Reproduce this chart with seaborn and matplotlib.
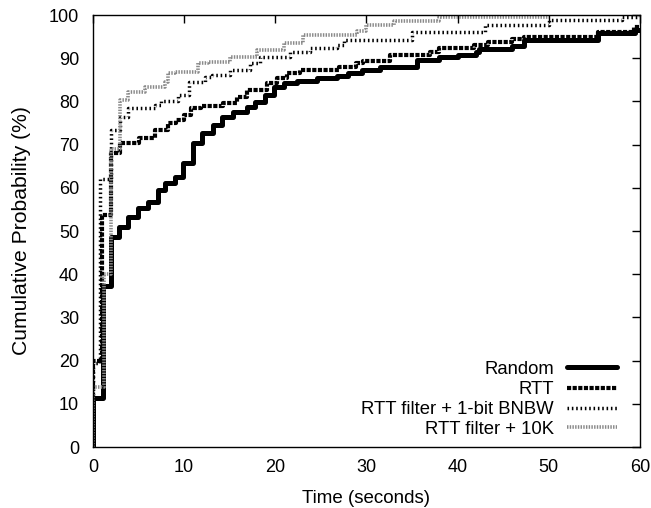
import matplotlib
matplotlib.use("Agg")
import matplotlib.pyplot as plt
from matplotlib.legend import Legend
import seaborn as sns
import pandas as pd

sns.set_theme(style="white")
plt.rcParams['font.family'] = ['Liberation Sans', 'DejaVu Sans']
for k in ["text.color", "axes.labelcolor", "xtick.color", "ytick.color", "axes.edgecolor"]:
    plt.rcParams[k] = "black"

# ---- data (time in seconds, cumulative %) ----
random_t = [0, 0, 1.1, 2.0, 2.9, 3.8, 4.9, 6.0, 7.1, 7.9, 9.0, 9.9, 11.0, 12.0, 13.2, 14.2, 15.4,
            16.9, 17.8, 18.9, 19.8, 20.9, 22.4, 24.6, 26.8, 28.0, 29.5, 31.5, 35.5, 38.0, 40.0,
            42.0, 42.3, 46.0, 47.3, 55.4, 59.5, 60]
random_p = [0, 11.3, 37.3, 48.6, 51.0, 53.3, 55.3, 56.7, 59.5, 61.0, 62.5, 65.7, 70.4, 72.8, 74.5,
            76.4, 77.5, 78.7, 79.9, 81.5, 83.3, 84.3, 84.7, 85.4, 85.9, 86.5, 87.3, 88.0, 89.6,
            90.2, 90.8, 91.5, 92.2, 92.8, 94.2, 95.8, 96.5, 96.5]

rtt_t = [0, 0, 1.0, 2.0, 3.0, 5.0, 6.8, 8.2, 9.1, 10.0, 10.7, 11.8, 14.3, 15.8, 16.9, 19.1, 20.2,
         21.3, 22.7, 27.0, 28.8, 29.6, 32.6, 37.0, 38.0, 41.8, 43.3, 46.0, 47.3, 55.4, 59.3, 60]
rtt_p = [0, 20.0, 53.7, 68.0, 70.4, 71.5, 73.4, 75.0, 75.7, 76.9, 78.5, 79.0, 79.6, 81.0, 82.6,
         84.3, 85.4, 86.6, 87.3, 88.0, 88.9, 89.4, 90.7, 91.4, 92.4, 93.0, 93.8, 94.4, 95.0,
         96.0, 97.2, 97.2]

bnbw_t = [0, 0, 0.8, 2.0, 3.0, 3.8, 6.8, 7.5, 9.3, 10.5, 12.3, 13.0, 15.0, 17.2, 18.3, 21.6,
          23.8, 26.8, 27.5, 35.0, 43.0, 50.0, 58.0, 60]
bnbw_p = [0, 19.5, 62.0, 73.4, 76.4, 78.5, 79.2, 80.0, 81.5, 84.5, 85.6, 86.0, 87.3, 88.9, 90.3,
          91.4, 92.4, 93.1, 94.2, 96.0, 97.7, 98.8, 99.5, 99.8]

k10_t = [0, 0, 1.2, 2.0, 3.0, 3.8, 5.7, 7.9, 8.2, 9.0, 11.5, 12.6, 15.0, 18.0, 20.9, 23.0, 29.0,
         30.0, 33.0, 38.0, 50.0]
k10_p = [0, 14.0, 40.0, 69.0, 80.3, 82.2, 83.3, 84.5, 86.6, 86.8, 88.9, 89.1, 90.3, 91.9, 93.5,
         95.4, 96.2, 97.7, 98.5, 99.6, 99.6]

labels = ["Random", "RTT", "RTT filter + 1-bit BNBW", "RTT filter + 10K"]
series = [(random_t, random_p), (rtt_t, rtt_p), (bnbw_t, bnbw_p), (k10_t, k10_p)]
styles = [
    dict(color="black", lw=3.6, linestyle="-"),
    dict(color="black", lw=3.0, linestyle=(0, (1.0, 0.35))),
    dict(color="black", lw=2.5, linestyle=(0, (0.45, 0.8))),
    dict(color="#8a8a8a", lw=2.6, linestyle=(0, (0.4, 0.35))),
]

W, H = 651, 508
fig = plt.figure(figsize=(W / 100, H / 100), dpi=100)
ax = fig.add_axes([93 / W, 1 - 447 / H, 547 / W, 432 / H])

lines = []
for lab, (t, p), st in zip(labels, series, styles):
    df = pd.DataFrame({"t": t, "p": p})
    sns.lineplot(data=df, x="t", y="p", ax=ax, estimator=None, sort=False,
                 drawstyle="steps-post", legend=False, **st)
    lines.append(ax.get_lines()[-1])

ax.set_xlim(0, 60)
ax.set_ylim(0, 100)
ax.set_xticks(range(0, 61, 10))
ax.set_yticks(range(0, 101, 10))
ax.set_xlabel("Time (seconds)", fontsize=13.5, labelpad=10)
ax.set_ylabel("Cumulative Probability (%)", fontsize=15.2, labelpad=13)
ax.tick_params(axis="both", which="both", direction="in", length=6, width=1,
               top=True, right=True, labelsize=13, color="black", labelcolor="black")
ax.tick_params(axis="y", pad=10)
ax.tick_params(axis="x", pad=9)
for s in ax.spines.values():
    s.set_visible(True)
    s.set_color("black")
    s.set_linewidth(1.0)
ax.grid(False)

# legend: one single-entry legend per row, text right-aligned before the sample
fs = 13.3
fs_px = fs * 100 / 72
row_y = [369, 390, 410, 429]
for ln, lab, yy in zip(lines, labels, row_y):
    leg = Legend(ax, [ln], [lab], loc="center right", frameon=False, markerfirst=False,
                 fontsize=fs, handlelength=50 / fs_px, handletextpad=13 / fs_px,
                 borderpad=0, borderaxespad=0, labelcolor="black",
                 bbox_to_anchor=(617 / W, 1 - yy / H), bbox_transform=fig.transFigure)
    ax.add_artist(leg)

fig.savefig("out.png", dpi=100)
